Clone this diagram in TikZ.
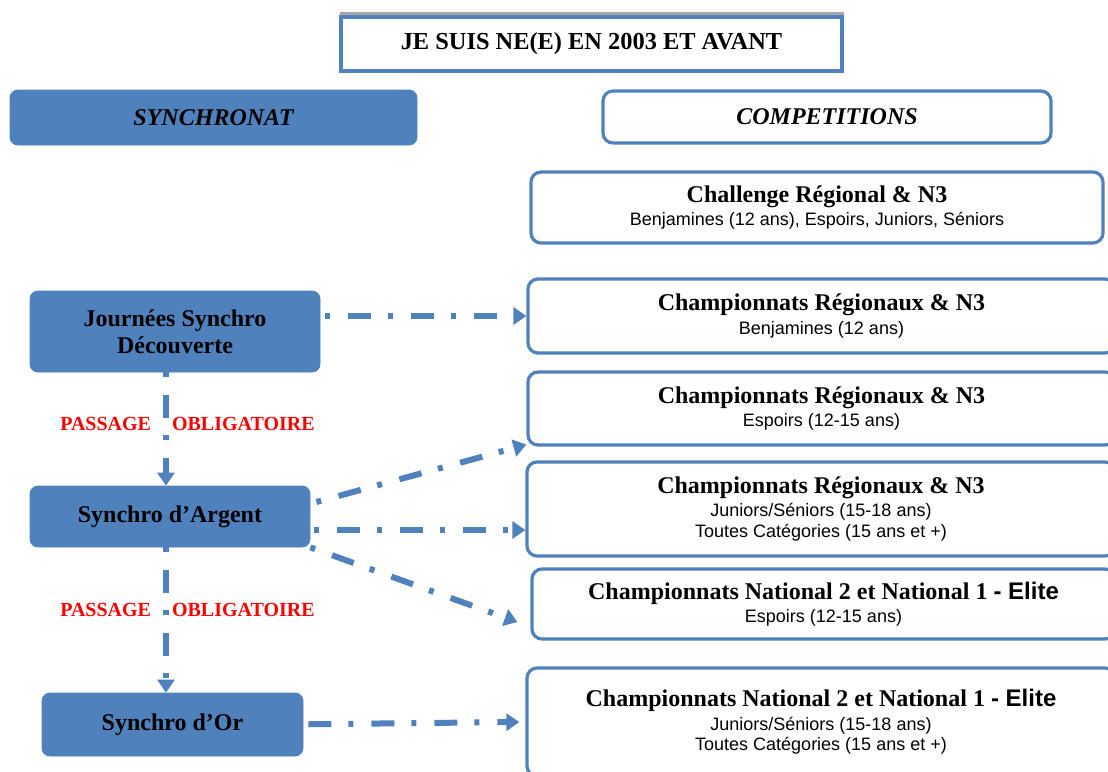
\documentclass[tikz,border=0pt]{standalone}
\usepackage{fontspec}
\setmainfont{Liberation Serif}
\setsansfont{Liberation Sans}
\usetikzlibrary{positioning,arrows.meta}
\definecolor{bleu}{HTML}{4F81BD}
\definecolor{gris}{HTML}{A6A6A6}
\tikzset{%
  fleche/.style = {-{Triangle[width=8.5pt,length=6.5pt]},draw=bleu,line width=3pt,
        dash pattern=on 2.5pt off 9pt on 11.5pt off 8.5pt},
  plein/.style = {rectangle,rounded corners=4pt,fill=bleu,draw=bleu,
        font=\fontsize{12}{13.5}\selectfont\bfseries,align=center},
  cadre/.style = {rectangle,rounded corners=5pt,draw=bleu,line width=1.6pt,
        fill=white,align=center,font=\fontsize{9}{10.3}\selectfont\sffamily},
  oblig/.style = {text=red,font=\fontsize{10}{11}\selectfont\bfseries}
}
\newcommand{\titre}[1]{{\fontsize{12}{13}\selectfont\rmfamily\bfseries #1}}

\begin{document}
\begin{tikzpicture}[x=0.5pt,y=-0.5pt]
\useasboundingbox (0,0) rectangle (1108,771);
\clip (0,0) rectangle (1108,771);
\fill[gris] (340,12) rectangle (844,17);
\node[rectangle,draw=bleu,line width=2pt,minimum width=250.5pt,minimum height=27pt,
      font=\fontsize{12.2}{14}\selectfont\bfseries] (titre) at (591.5,44)
      {JE SUIS NE(E) EN 2003 ET AVANT};
\node[plein,minimum width=203.5pt,minimum height=27.5pt,font=\fontsize{12}{13}\selectfont\bfseries\itshape]
      (synchronat) at (213.5,117.5) {SYNCHRONAT};
\node[cadre,minimum width=224pt,minimum height=26pt,font=\fontsize{12}{13}\selectfont\bfseries\itshape]
      (competitions) at (827,117) {COMPETITIONS};

\node[cadre,minimum width=286pt,minimum height=35.5pt] (cr1) at (817,207.5)
      {\titre{Challenge Régional \& N3}\\[1.5pt]Benjamines (12 ans), Espoirs, Juniors, Séniors};
\node[cadre,minimum width=293.5pt,minimum height=37pt] (cr2) at (821.5,316)
      {\titre{Championnats Régionaux \& N3}\\[1.5pt]Benjamines (12 ans)};
\node[cadre,minimum width=293.5pt,minimum height=36.5pt] (cr3) at (821.5,408.5)
      {\titre{Championnats Régionaux \& N3}\\[1.5pt]Espoirs (12-15 ans)};
\node[cadre,minimum width=294pt,minimum height=47pt] (cr4) at (821,509)
      {\titre{Championnats Régionaux \& N3}\\[1.5pt]Juniors/Séniors (15-18 ans)\\Toutes Catégories (15 ans et +)};
\node[cadre,minimum width=291.5pt,minimum height=35pt] (cr5) at (823.5,604)
      {\titre{Championnats National 2 et National 1 \textsf{- Elite}}\\[1.5pt]Espoirs (12-15 ans)};
\node[cadre,minimum width=294pt,minimum height=54pt] (cr6) at (821,722)
      {\titre{Championnats National 2 et National 1 \textsf{- Elite}}\\[1.5pt]Juniors/Séniors (15-18 ans)\\Toutes Catégories (15 ans et +)};

\node[plein,minimum width=145pt,minimum height=40.5pt] (jsd) at (175,331.5)
      {Journées Synchro\\Découverte};
\node[plein,minimum width=140pt,minimum height=30.5pt] (arg) at (170,516.5)
      {Synchro d’Argent};
\node[plein,minimum width=130.5pt,minimum height=31.5pt] (or) at (172.5,724.5)
      {Synchro d’Or};

\draw[fleche] ([xshift=2.5pt]jsd.east |- cr2.west) -- (cr2.west);
\draw[fleche] ([xshift=-4.5pt]jsd.south) -- ([xshift=-4.5pt]jsd.south |- arg.north);
\node[oblig] (pass1) at (187.5,424) {PASSAGE\hspace{10.5pt}OBLIGATOIRE};
\draw[fleche] ([xshift=3pt,yshift=7.25pt]arg.east) -- ([yshift=1pt]cr3.south west);
\coordinate (a4) at ([xshift=2pt,yshift=-6.75pt]arg.east);
\draw[fleche] (a4) -- (a4 -| cr4.west);
\draw[fleche] (arg.south east) -- ([xshift=-6.5pt,yshift=-9pt]cr5.west);
\draw[fleche] ([xshift=-2pt]arg.south) -- ([xshift=-2pt]arg.south |- or.north);
\node[oblig] (pass2) at (187.5,610) {PASSAGE\hspace{10.5pt}OBLIGATOIRE};
\draw[fleche] ([xshift=-9pt]or.east) -- ([xshift=-3pt]cr6.west);
\end{tikzpicture}
\end{document}
